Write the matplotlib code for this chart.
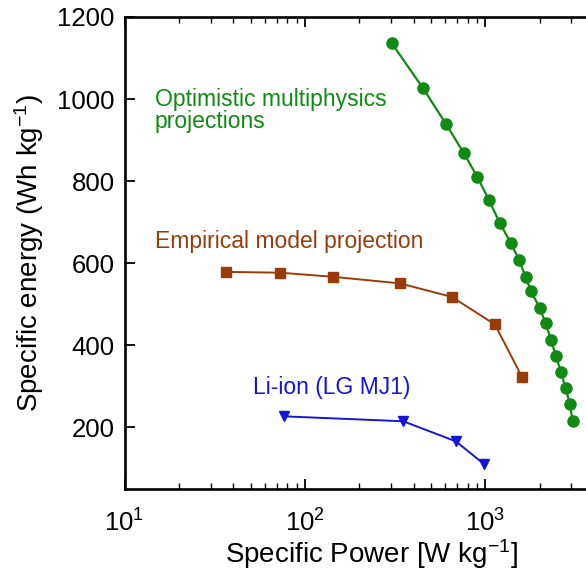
import matplotlib
matplotlib.use("Agg")
import matplotlib.pyplot as plt
from matplotlib.ticker import LogLocator, NullFormatter

plt.rcParams['font.family'] = ['Liberation Sans', 'DejaVu Sans']
plt.rcParams['mathtext.fontset'] = 'custom'
plt.rcParams['mathtext.rm'] = 'Liberation Sans'
plt.rcParams['mathtext.it'] = 'Liberation Sans'

# Optimistic multiphysics projections
multi_power = [302, 452, 604, 760, 901, 1046, 1203, 1385, 1539, 1670, 1788,
               2005, 2157, 2308, 2461, 2623, 2782, 2940, 3041]
multi_energy = [1137, 1026, 940, 868, 811, 754, 698, 649, 608, 567, 533,
                490, 454, 414, 374, 335, 295, 258, 216]

# Empirical model projection
emp_power = [36.3, 72.8, 143, 336, 652, 1129, 1600]
emp_energy = [579, 577, 567, 551, 518, 451, 322]

# Li-ion (LG MJ1)
li_power = [76.8, 351, 687, 988]
li_energy = [227, 215, 166, 110]

yticks = [200, 400, 600, 800, 1000, 1200]

GREEN = '#0f8a12'
BROWN = '#9a3b0b'
BLUE = '#1515d8'

fig = plt.figure(figsize=(5.86, 5.82), dpi=100)
ax = fig.add_axes([124.5 / 586, 1 - 489 / 582, (594 - 124.5) / 586, 472 / 582])

ax.plot(multi_power, multi_energy, '-o', color=GREEN, lw=1.6, ms=8)
ax.plot(emp_power, emp_energy, '-s', color=BROWN, lw=1.4, ms=7.5)
ax.plot(li_power, li_energy, '-v', color=BLUE, lw=1.4, ms=6.5)

ax.set_xscale('log')
ax.set_xlim(10, 4000)
ax.set_ylim(50, 1200)
ax.set_yticks(yticks)
ax.xaxis.set_major_locator(LogLocator(base=10, numticks=10))
ax.xaxis.set_minor_locator(LogLocator(base=10, subs=range(2, 10), numticks=20))
ax.xaxis.set_minor_formatter(NullFormatter())

for s in ax.spines.values():
    s.set_linewidth(1.9)
ax.tick_params(which='major', direction='in', length=7, width=1.3,
               labelsize=18.5, top=True, pad=7)
ax.tick_params(which='minor', direction='in', length=4, width=1.0, top=True)
ax.tick_params(axis='x', which='major', pad=15)

ax.set_ylabel('Specific energy (Wh kg$^{-1}$)', fontsize=20, labelpad=8)
ax.set_xlabel('Specific Power [W kg$^{-1}$]', fontsize=20)
ax.xaxis.set_label_coords(0.527, -0.102)

ax.text(0.065, 0.765, 'Optimistic multiphysics\nprojections', transform=ax.transAxes,
        color=GREEN, fontsize=16.5, va='baseline', ha='left', linespacing=0.92)
ax.text(0.065, 0.5106, 'Empirical model projection', transform=ax.transAxes,
        color=BROWN, fontsize=16.5, va='baseline', ha='left')
ax.text(0.2737, 0.2013, 'Li-ion (LG MJ1)', transform=ax.transAxes,
        color=BLUE, fontsize=16.5, va='baseline', ha='left')

fig.savefig('out.png', dpi=100)
